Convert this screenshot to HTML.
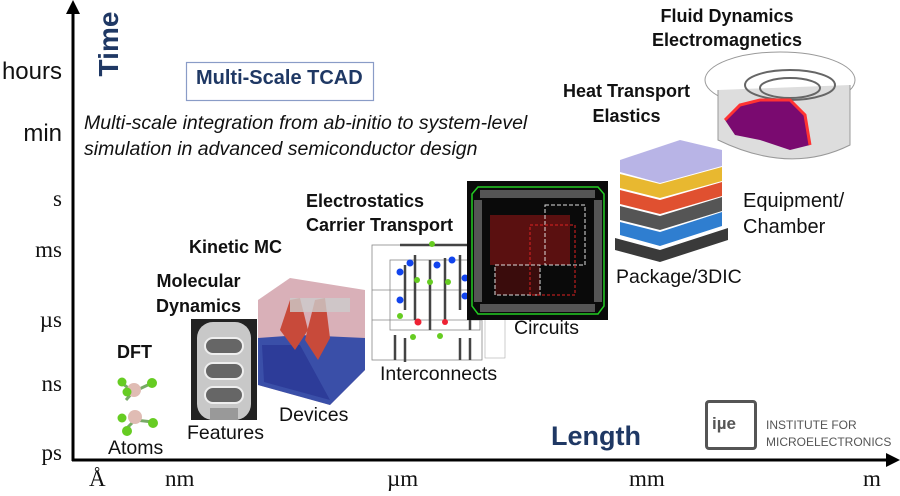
<!DOCTYPE html>
<html><head><meta charset="utf-8"><style>
body{margin:0;width:900px;height:496px;background:#fff;position:relative;overflow:hidden;font-family:"Liberation Sans",sans-serif;}
.a{position:absolute;white-space:nowrap;}
.b{font-weight:bold;font-size:18px;color:#111;}
.l{font-size:19.5px;color:#111;}
.y{font-size:23px;color:#111;text-align:right;width:62px;left:0;}
.sf{font-family:"Liberation Serif",serif;}
.x{font-size:23px;font-family:"Liberation Serif",serif;color:#111;}
</style></head><body>
<svg class="a" style="left:0;top:0" width="900" height="496">
<line x1="73" y1="12" x2="73" y2="461" stroke="#000" stroke-width="3"/>
<polygon points="73,0 66,14 80,14" fill="#000"/>
<line x1="72" y1="460" x2="888" y2="460" stroke="#000" stroke-width="3"/>
<polygon points="900,460 886,453 886,467" fill="#000"/>
<rect x="186.5" y="62.5" width="187" height="38" fill="#fff" stroke="#8a9cc7" stroke-width="1.2"/>
<g>
<line x1="133" y1="392" x2="122" y2="383" stroke="#7a6" stroke-width="3"/><line x1="133" y1="392" x2="152" y2="383" stroke="#7a6" stroke-width="3"/><line x1="133" y1="392" x2="126" y2="400" stroke="#7a6" stroke-width="3"/>
<circle cx="134" cy="390" r="7" fill="#e0bcb4"/><circle cx="122" cy="382" r="4.5" fill="#6c2"/><circle cx="152" cy="383" r="5" fill="#6c2"/><circle cx="127" cy="392" r="4.5" fill="#6c2"/>
<line x1="135" y1="420" x2="125" y2="430" stroke="#7a6" stroke-width="3"/><line x1="135" y1="420" x2="153" y2="422" stroke="#7a6" stroke-width="3"/>
<circle cx="135" cy="417" r="7" fill="#e0bcb4"/><circle cx="122" cy="418" r="4.5" fill="#6c2"/><circle cx="153" cy="423" r="5" fill="#6c2"/><circle cx="127" cy="431" r="5" fill="#6c2"/>
</g>
<rect x="191" y="319" width="66" height="101" fill="#222"/>
<rect x="197" y="322" width="54" height="98" rx="16" fill="#c8c8c8"/>
<rect x="205" y="338" width="38" height="16" rx="8" fill="#666" stroke="#eee" stroke-width="2"/>
<rect x="205" y="363" width="38" height="16" rx="8" fill="#666" stroke="#eee" stroke-width="2"/>
<rect x="205" y="387" width="38" height="16" rx="8" fill="#666" stroke="#eee" stroke-width="2"/>
<rect x="210" y="408" width="28" height="12" fill="#999"/>
<polygon points="258,300 290,278 365,290 365,370 330,405 258,385" fill="#d9b0b8"/>
<polygon points="258,338 300,335 365,338 365,370 330,405 258,385" fill="#3a4fa8"/>
<polygon points="262,345 300,345 330,400 264,382" fill="#2d3c99"/>
<polygon points="280,330 290,300 300,298 308,330 295,350" fill="#c84a3a"/>
<polygon points="305,340 315,300 325,298 330,338 318,360" fill="#c84a3a"/>
<rect x="290" y="298" width="60" height="14" fill="#ccc" opacity=".8"/>
<g stroke="#888" stroke-width="0.8" fill="none">
<rect x="372" y="245" width="110" height="115"/><rect x="390" y="260" width="90" height="70"/>
<line x1="372" y1="290" x2="482" y2="290"/><line x1="372" y1="320" x2="482" y2="320"/>
</g>
<g stroke="#444" stroke-width="2.5">
<line x1="405" y1="265" x2="405" y2="310"/><line x1="415" y1="255" x2="415" y2="320"/><line x1="430" y1="260" x2="430" y2="330"/><line x1="445" y1="258" x2="445" y2="320"/><line x1="460" y1="255" x2="460" y2="310"/><line x1="470" y1="270" x2="470" y2="330"/>
<line x1="395" y1="335" x2="395" y2="360"/><line x1="405" y1="338" x2="405" y2="362"/><line x1="460" y1="338" x2="460" y2="360"/><line x1="470" y1="338" x2="470" y2="360"/>
<line x1="400" y1="245" x2="470" y2="245"/>
</g>
<g><circle cx="432" cy="244" r="3" fill="#6c2"/><circle cx="410" cy="263" r="3.5" fill="#14e"/><circle cx="437" cy="265" r="3.5" fill="#14e"/><circle cx="452" cy="260" r="3.5" fill="#14e"/><circle cx="400" cy="272" r="3.5" fill="#14e"/><circle cx="417" cy="280" r="3" fill="#6c2"/><circle cx="430" cy="282" r="3" fill="#6c2"/><circle cx="448" cy="282" r="3" fill="#6c2"/><circle cx="465" cy="278" r="3.5" fill="#14e"/><circle cx="400" cy="300" r="3.5" fill="#14e"/><circle cx="465" cy="296" r="3.5" fill="#14e"/><circle cx="400" cy="316" r="3" fill="#6c2"/><circle cx="418" cy="322" r="3.5" fill="#e23"/><circle cx="445" cy="322" r="3" fill="#e23"/><circle cx="413" cy="337" r="3" fill="#6c2"/><circle cx="440" cy="336" r="3" fill="#6c2"/></g>
<rect x="485" y="318" width="20" height="40" fill="#fff" stroke="#aaa" stroke-width=".6"/>
<rect x="467" y="181" width="141" height="139" fill="#0a0a0a"/>
<polygon points="478,187 598,187 604,194 604,306 598,314 478,314 472,306 472,194" fill="none" stroke="#2c2" stroke-width="1.5"/>
<rect x="490" y="215" width="80" height="50" fill="#5a1010"/>
<rect x="495" y="265" width="45" height="30" fill="#3a0c0c" stroke="#ddd" stroke-dasharray="4,2" stroke-width="1"/>
<rect x="545" y="205" width="40" height="60" fill="none" stroke="#ddd" stroke-dasharray="4,2"/>
<rect x="530" y="225" width="45" height="70" fill="none" stroke="#d22" stroke-dasharray="3,2"/>
<g fill="#555"><rect x="480" y="190" width="115" height="8"/><rect x="480" y="304" width="115" height="8"/><rect x="474" y="200" width="8" height="102"/><rect x="594" y="200" width="8" height="102"/></g>
<polygon points="615,250 660,262 728,240 728,228 660,250 615,238" fill="#3a3a3a"/>
<polygon points="620,235 660,246 722,226 722,212 660,232 620,222" fill="#2f7ed0"/>
<polygon points="620,220 660,230 722,211 722,197 660,216 620,206" fill="#555"/>
<polygon points="620,204 660,214 722,196 722,182 660,200 620,190" fill="#e05030"/>
<polygon points="620,188 660,198 722,181 722,167 660,184 620,174" fill="#e8b830"/>
<polygon points="620,160 680,140 722,150 722,166 660,183 620,172" fill="#b8b4e6"/>
<ellipse cx="780" cy="80" rx="75" ry="28" fill="none" stroke="#999"/>
<path d="M718 90 L718 140 Q790 175 850 145 L850 85" fill="#ddd" stroke="#999"/>
<ellipse cx="790" cy="85" rx="45" ry="15" fill="none" stroke="#666" stroke-width="2"/>
<ellipse cx="790" cy="88" rx="30" ry="10" fill="none" stroke="#666" stroke-width="2"/>
<polygon points="725,120 740,105 760,100 790,100 805,115 810,145 790,150 760,140 735,135" fill="#7a0a70"/>
<path d="M725 120 L740 105 L760 100 L790 100 L805 115 L810 145" fill="none" stroke="#f33" stroke-width="3"/>
</svg>
<div class="a y" style="top:58px;font-size:24px">hours</div>
<div class="a y" style="top:120px;font-size:24px">min</div>
<div class="a y sf" style="top:186px">s</div>
<div class="a y sf" style="top:237px">ms</div>
<div class="a y sf" style="top:307px">µs</div>
<div class="a y sf" style="top:371px">ns</div>
<div class="a y sf" style="top:440px">ps</div>
<div class="a x" style="left:89px;top:466px">Å</div>
<div class="a x" style="left:165px;top:466px">nm</div>
<div class="a x" style="left:387px;top:466px">µm</div>
<div class="a x" style="left:629px;top:466px">mm</div>
<div class="a x" style="left:863px;top:466px">m</div>
<div class="a" style="left:74px;top:28px;transform:rotate(-90deg);transform-origin:center;width:70px;text-align:center;font-weight:bold;font-size:28px;color:#1f3864;">Time</div>
<div class="a" style="left:196px;top:67px;font-weight:bold;font-size:20px;color:#1f3864">Multi-Scale TCAD</div>
<div class="a" style="left:84px;top:110px;font-style:italic;font-size:19.5px;color:#111;line-height:26px">Multi-scale integration from ab-initio to system-level<br>simulation in advanced semiconductor design</div>
<div class="a b" style="left:117px;top:342px">DFT</div>
<div class="a b" style="left:156px;top:269px;line-height:25px;text-align:center">Molecular<br>Dynamics</div>
<div class="a b" style="left:189px;top:237px">Kinetic MC</div>
<div class="a b" style="left:306px;top:189px;line-height:24px">Electrostatics<br>Carrier Transport</div>
<div class="a b" style="left:563px;top:79px;line-height:25px;text-align:center">Heat Transport<br>Elastics</div>
<div class="a b" style="left:652px;top:4px;line-height:24px;text-align:center">Fluid Dynamics<br>Electromagnetics</div>
<div class="a l" style="left:108px;top:437px">Atoms</div>
<div class="a l" style="left:187px;top:422px">Features</div>
<div class="a l" style="left:279px;top:404px">Devices</div>
<div class="a l" style="left:380px;top:363px">Interconnects</div>
<div class="a l" style="left:514px;top:317px">Circuits</div>
<div class="a l" style="left:616px;top:266px">Package/3DIC</div>
<div class="a l" style="left:743px;top:188px;line-height:26px;font-size:20px">Equipment/<br>Chamber</div>
<div class="a" style="left:551px;top:421px;font-weight:bold;font-size:27px;color:#1f3864">Length</div>
<div class="a" style="left:705px;top:400px;width:52px;height:50px;border:3px solid #555;border-radius:4px;box-sizing:border-box"></div>
<div class="a" style="left:712px;top:414px;font-weight:bold;font-size:17px;color:#555">iµe</div>
<div class="a" style="left:766px;top:417px;font-size:12px;color:#555;line-height:17px">INSTITUTE FOR<br>MICROELECTRONICS</div>
</body></html>
